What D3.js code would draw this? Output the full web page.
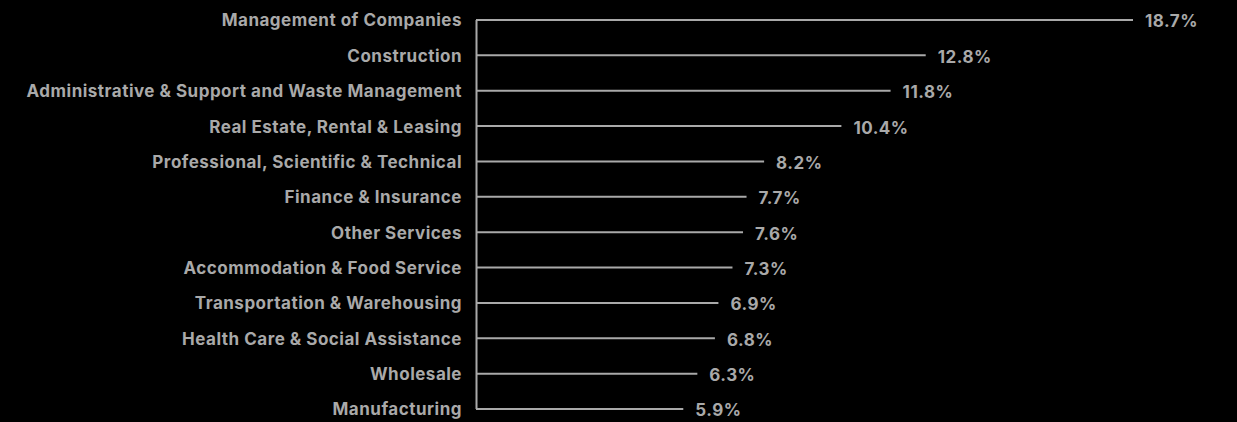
<!DOCTYPE html>
<html>
<head>
<meta charset="utf-8">
<script src="https://cdn.jsdelivr.net/npm/d3@7"></script>
<style>
  html, body { margin: 0; padding: 0; background: #000; }
  svg { display: block; }
  text { font-family: Inter, "Liberation Sans", Arial, sans-serif; font-weight: bold; letter-spacing: 0.5px; }
</style>
</head>
<body>
<svg id="chart" width="1237" height="422"></svg>
<script>
// Share by industry, sorted from largest to smallest
const industries = [
  "Management of Companies",
  "Construction",
  "Administrative & Support and Waste Management",
  "Real Estate, Rental & Leasing",
  "Professional, Scientific & Technical",
  "Finance & Insurance",
  "Other Services",
  "Accommodation & Food Service",
  "Transportation & Warehousing",
  "Health Care & Social Assistance",
  "Wholesale",
  "Manufacturing"
];
const shares = [18.7, 12.8, 11.8, 10.4, 8.2, 7.7, 7.6, 7.3, 6.9, 6.8, 6.3, 5.9];

const data = industries.map((name, i) => ({ name, value: shares[i] }));

const svg = d3.select("#chart");
const margin = { left: 476, top: 20 };
const plotW = 657;   // width that 18.7 spans
const rowSpan = 389; // distance from first to last row

const x = d3.scaleLinear().domain([0, 18.7]).range([margin.left, margin.left + plotW]);
const y = d3.scalePoint().domain(industries).range([margin.top, margin.top + rowSpan]);

const grey = "#a9a9a9";

// Left axis with category labels
const yAxis = d3.axisLeft(y).tickSize(0).tickPadding(14);
const gy = svg.append("g")
  .attr("transform", `translate(${margin.left},0)`)
  .call(yAxis);
gy.select(".domain").attr("stroke", grey).attr("stroke-width", 2)
  .attr("d", `M0.5,${margin.top}V${margin.top + rowSpan}`);
gy.selectAll(".tick text")
  .attr("fill", grey)
  .attr("font-size", 17)
  .attr("dy", "0.35em");

// Thin bars drawn as lines
svg.append("g").selectAll("line")
  .data(data)
  .join("line")
  .attr("x1", x(0))
  .attr("x2", d => x(d.value))
  .attr("y1", d => y(d.name))
  .attr("y2", d => y(d.name))
  .attr("stroke", grey)
  .attr("stroke-width", 2);

// Value labels
svg.append("g").selectAll("text")
  .data(data)
  .join("text")
  .attr("x", d => x(d.value) + 12)
  .attr("y", d => y(d.name) + 1.5)
  .attr("dy", "0.35em")
  .attr("fill", grey)
  .attr("font-size", 17)
  .text(d => d.value.toFixed(1) + "%");
</script>
</body>
</html>
